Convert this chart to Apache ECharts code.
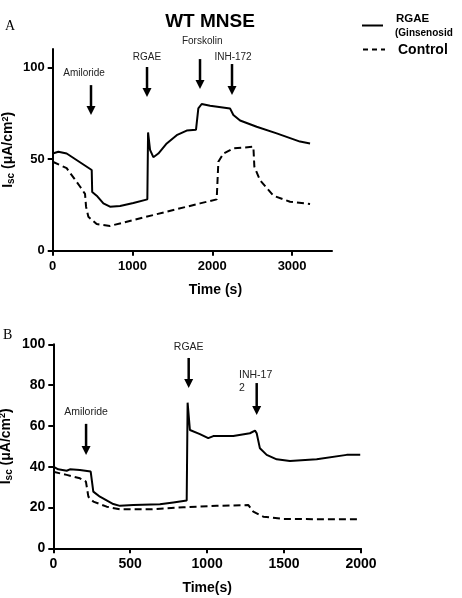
<!DOCTYPE html>
<html>
<head>
<meta charset="utf-8">
<script src="https://cdn.jsdelivr.net/npm/echarts@6/dist/echarts.min.js"></script>
<style>
  html, body { margin: 0; padding: 0; background: #fff; }
  #main { width: 462px; height: 598px; }
</style>
</head>
<body>
<div id="main"></div>
<script>
// 数据：A 图 (WT MNSE)
var rgaeTimeA  = [0, 71, 175, 489, 495, 551, 635, 718, 844, 1011, 1186, 1195, 1220, 1261, 1324, 1429, 1554, 1679, 1796, 1825, 1867, 1972, 2222, 2264, 2348, 2556, 2807, 3099, 3225];
var rgaeValueA = [53, 54, 53, 44, 32, 30, 25.8, 24, 24.4, 26, 28, 64.5, 55, 51, 53, 58.5, 63, 65.5, 66, 77.6, 80, 79, 77.6, 74, 71, 67.6, 64, 59.5, 58.5];
var ctrlTimeA  = [0, 175, 342, 405, 418, 447, 551, 718, 1011, 1429, 1846, 2055, 2076, 2139, 2264, 2515, 2527, 2598, 2765, 2974, 3225];
var ctrlValueA = [48.5, 45, 35, 31, 24, 18.5, 14.5, 13.5, 16.7, 21.3, 25.8, 28, 48.5, 53, 55.8, 56.7, 45.8, 38.5, 30, 26.7, 25.5];

// 数据：B 图
var rgaeTimeB  = [0, 32, 87, 108, 173, 243, 260, 303, 390, 433, 520, 693, 780, 867, 873, 888, 953, 1007, 1040, 1170, 1278, 1311, 1322, 1343, 1387, 1452, 1538, 1712, 1907, 1995];
var rgaeValueB = [40, 38.7, 38, 38.7, 38.4, 37.6, 27.8, 25.3, 21.7, 20.8, 21.2, 21.6, 22.5, 23.4, 71.4, 58, 56, 54, 55, 55, 56.4, 57.7, 56.4, 49, 45.8, 43.6, 42.8, 43.6, 45.8, 45.8];
var ctrlTimeB  = [0, 87, 173, 212, 228, 260, 347, 433, 628, 845, 1062, 1268, 1300, 1365, 1495, 1820, 1995];
var ctrlValueB = [37.5, 36, 34.3, 32.7, 25.3, 22.9, 20.4, 19.1, 19.1, 20.1, 20.8, 21.2, 18, 15.5, 14.4, 14.2, 14.2];

// 刻度
var xTicksA = [0, 1000, 2000, 3000];
var yTicksA = [0, 50, 100];
var xTicksB = [0, 500, 1000, 1500, 2000];
var yTicksB = [0, 20, 40, 60, 80, 100];

// 箭头注释 (数据坐标)
var notesA = [
  { text: 'Amiloride', t: 480,  from: 90.3,  to: 74,   lt: 393,  lv: 96.9 },
  { text: 'RGAE',      t: 1182, from: 100.2, to: 83.8, lt: 1182, lv: 105.6 },
  { text: 'Forskolin', t: 1846, from: 104.5, to: 88.2, lt: 1873, lv: 114.3 },
  { text: 'INH-172',   t: 2247, from: 101.8, to: 84.9, lt: 2260, lv: 105.6 }
];
var notesB = [
  { text: 'Amiloride', t: 213,  from: 61,   to: 45.7, lt: 213,  lv: 66.8 },
  { text: 'RGAE',      t: 880,  from: 93.3, to: 78.6, lt: 880,  lv: 98.7 },
  { text: 'INH-17\n2', t: 1322, from: 81,   to: 65.3, lt: 1207, lv: 81.8, align: 'left' }
];

function zip(xs, ys) {
  return xs.map(function (x, i) { return [x, ys[i]]; });
}

var FONT = "'Liberation Sans', Arial, sans-serif";
var myChart = echarts.init(document.getElementById('main'));

function axisName(size) {
  return {
    fontFamily: FONT,
    rich: {
      b: { fontSize: size, fontWeight: 'bold', fontFamily: FONT, color: '#000' },
      s: { fontSize: size - 4, fontWeight: 'bold', fontFamily: FONT, color: '#000', padding: [size * 0.45, 0, 0, 0] },
      p: { fontSize: size - 5, fontWeight: 'bold', fontFamily: FONT, color: '#000', padding: [0, 0, size * 0.5, 0] }
    }
  };
}
var yNameText = '{b|I}{s|sc}{b| (μA/cm}{p|2}{b|)}';

function plain(v) { return String(v); }

function xAxis(idx, max, ticks, name, size, gap, pad) {
  return {
    gridIndex: idx, type: 'value', min: 0, max: max,
    name: name, nameLocation: 'middle', nameGap: gap, nameMoveOverlap: false,
    nameTextStyle: { fontFamily: FONT, fontSize: 14, fontWeight: 'bold', color: '#000', padding: pad },
    axisLine: { lineStyle: { color: '#000', width: 2 } },
    axisTick: { customValues: ticks, length: 5, lineStyle: { color: '#000', width: 2 } },
    axisLabel: { customValues: ticks, formatter: plain, margin: 9, fontFamily: FONT, fontSize: size, fontWeight: 'bold', color: '#000' },
    splitLine: { show: false }
  };
}
function yAxis(idx, max, ticks, size, gap) {
  return {
    gridIndex: idx, type: 'value', min: 0, max: max,
    name: yNameText, nameLocation: 'middle', nameGap: gap, nameMoveOverlap: false,
    nameTextStyle: axisName(14),
    axisLine: { lineStyle: { color: '#000', width: 2 } },
    axisTick: { customValues: ticks, length: 5, lineStyle: { color: '#000', width: 2 } },
    axisLabel: { customValues: ticks, formatter: plain, margin: 8, fontFamily: FONT, fontSize: size, fontWeight: 'bold', color: '#000' },
    splitLine: { show: false }
  };
}

function lineSeries(name, idx, data, dashed) {
  return {
    name: name, type: 'line', xAxisIndex: idx, yAxisIndex: idx,
    data: data, symbol: 'none', silent: true,
    lineStyle: { color: '#000', width: 2, type: dashed ? [7, 4] : 'solid' }
  };
}

var option = {
  animation: false,
  backgroundColor: '#fff',
  title: {
    text: 'WT MNSE', left: 205, top: 7, textAlign: 'center',
    textStyle: { fontFamily: FONT, fontSize: 19, fontWeight: 'bold', color: '#000' }
  },
  grid: [
    { left: 52.7, right: 130, top: 49, bottom: 347.3, outerBoundsMode: 'none' },
    { left: 53.3, right: 101, top: 344.3, bottom: 49.7, outerBoundsMode: 'none' }
  ],
  xAxis: [
    xAxis(0, 3500, xTicksA, 'Time (s)', 13, 32, [0, 0, 0, 46]),
    xAxis(1, 2000, xTicksB, 'Time(s)', 14, 33, 0)
  ],
  yAxis: [
    yAxis(0, 110, yTicksA, 13, 36),
    yAxis(1, 100, yTicksB, 14, 39)
  ],
  series: [
    lineSeries('RGAE', 0, zip(rgaeTimeA, rgaeValueA), false),
    lineSeries('Control', 0, zip(ctrlTimeA, ctrlValueA), true),
    lineSeries('RGAE', 1, zip(rgaeTimeB, rgaeValueB), false),
    lineSeries('Control', 1, zip(ctrlTimeB, ctrlValueB), true)
  ]
};

myChart.setOption(option);

// 注释箭头：用数据坐标换算成像素
function noteGraphics(notes, idx, fontSize) {
  var out = [];
  notes.forEach(function (n) {
    var p1 = myChart.convertToPixel({ xAxisIndex: idx, yAxisIndex: idx }, [n.t, n.from]);
    var p2 = myChart.convertToPixel({ xAxisIndex: idx, yAxisIndex: idx }, [n.t, n.to]);
    var pl = myChart.convertToPixel({ xAxisIndex: idx, yAxisIndex: idx }, [n.lt, n.lv]);
    out.push({
      type: 'line', silent: true,
      shape: { x1: p1[0], y1: p1[1], x2: p2[0], y2: p2[1] - 7 },
      style: { stroke: '#000', lineWidth: 2.5 }
    });
    out.push({
      type: 'polygon', silent: true,
      shape: { points: [[p2[0] - 4.5, p2[1] - 9], [p2[0] + 4.5, p2[1] - 9], [p2[0], p2[1]]] },
      style: { fill: '#000' }
    });
    out.push({
      type: 'text', silent: true, x: pl[0], y: pl[1],
      style: {
        text: n.text, fill: '#222', font: fontSize + 'px ' + FONT,
        align: n.align || 'center', verticalAlign: 'middle', lineHeight: 13
      }
    });
  });
  return out;
}

// 图例
var legendGraphics = [
  { type: 'line', silent: true, shape: { x1: 362, y1: 25.5, x2: 383, y2: 25.5 }, style: { stroke: '#000', lineWidth: 2 } },
  { type: 'text', silent: true, x: 396, y: 19, style: { text: 'RGAE', font: 'bold 11.5px ' + FONT, fill: '#000', verticalAlign: 'middle' } },
  { type: 'text', silent: true, x: 395, y: 33, style: { text: '(Ginsenosid', font: 'bold 10px ' + FONT, fill: '#000', verticalAlign: 'middle' } },
  { type: 'line', silent: true, shape: { x1: 363, y1: 49.5, x2: 385, y2: 49.5 }, style: { stroke: '#000', lineWidth: 2, lineDash: [5, 4] } },
  { type: 'text', silent: true, x: 398, y: 50, style: { text: 'Control', font: 'bold 14px ' + FONT, fill: '#000', verticalAlign: 'middle' } }
];

var graphics = [
  { type: 'text', left: 5, top: 19, silent: true, style: { text: 'A', font: '14px "Liberation Serif", "DejaVu Serif", serif', fill: '#000' } },
  { type: 'text', left: 3, top: 328, silent: true, style: { text: 'B', font: '14px "Liberation Serif", "DejaVu Serif", serif', fill: '#000' } }
].concat(legendGraphics).concat(noteGraphics(notesA, 0, 10)).concat(noteGraphics(notesB, 1, 10.5));

myChart.setOption({ graphic: graphics });
</script>
</body>
</html>
